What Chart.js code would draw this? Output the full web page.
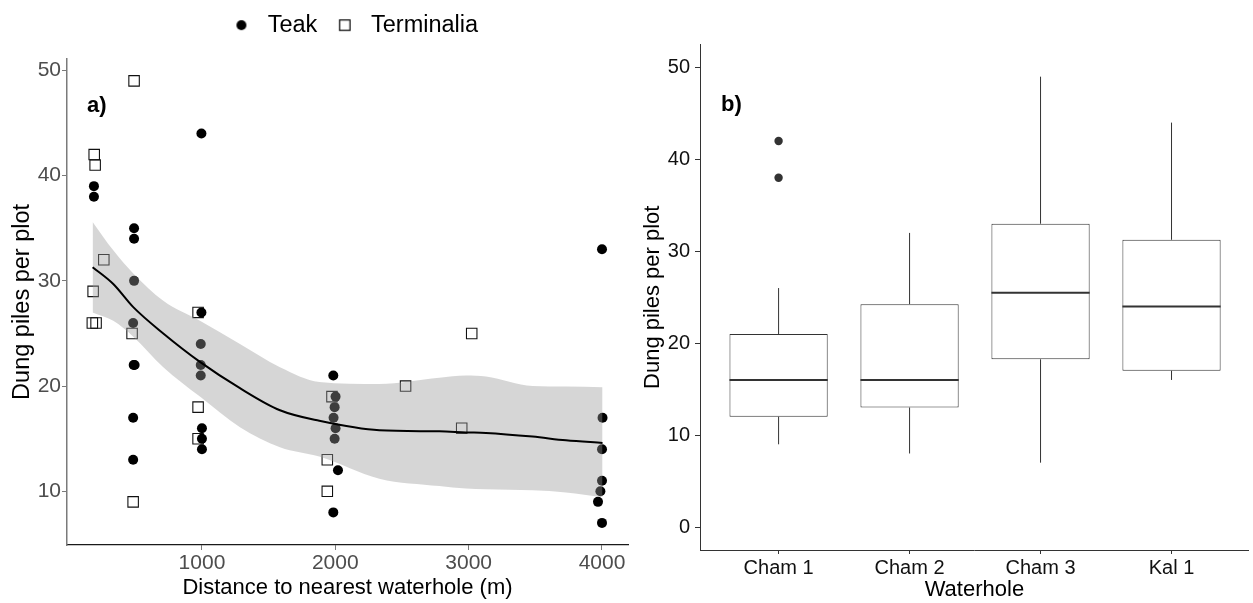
<!DOCTYPE html>
<html>
<head>
<meta charset="utf-8">
<script src="https://cdn.jsdelivr.net/npm/chart.js@4.4.1/dist/chart.umd.min.js"></script>
<style>
  body { margin: 0; background: #fff; }
  #wrap { position: relative; width: 1253px; height: 603px; font-family: "Liberation Sans", Arial, sans-serif; }
  .panel { position: absolute; top: 0; height: 603px; }
  #left { left: 0; width: 640px; }
  #right { left: 640px; width: 613px; }
  .tag { position: absolute; font-weight: bold; font-size: 22px; line-height: 22px; color: #000; }
</style>
</head>
<body>
<div id="wrap">
  <div class="panel" id="left"><canvas id="distChart"></canvas></div>
  <div class="panel" id="right"><canvas id="boxChart"></canvas></div>
  <div class="tag" style="left:87px; top:94px;">a)</div>
  <div class="tag" style="left:721px; top:93px;">b)</div>
</div>
<script>
// a) dung piles against distance to the nearest waterhole
const teakDistance = [190, 190, 491, 491, 491, 484, 488, 495, 484, 484, 996, 996, 991, 991, 991, 1000, 1000, 1000,
  1985, 2002, 1995, 1987, 2002, 1995, 2020, 1985, 4000, 4004, 4000, 4000, 3988, 3970, 4000];
const teakDung = [39, 38, 35, 34, 30, 26, 22, 22, 17, 13, 44, 27, 24, 22, 21, 16, 15, 14,
  21, 19, 18, 17, 16, 15, 12, 8, 33, 17, 14, 11, 10, 9, 7];
const termDistance = [192, 199, 264, 184, 178, 206, 491, 476, 484, 971, 971, 971, 1975, 1940, 1940, 2527, 2948, 3023];
const termDung = [42, 41, 32, 29, 26, 26, 49, 25, 9, 27, 18, 15, 19, 13, 10, 20, 16, 25];

// loess fit and its confidence band
const smoothDistance = [180, 335, 485, 710, 985, 1285, 1585, 1880, 2330, 2780, 2980, 3130, 3480, 3730, 4004];
const smoothFit = [31.3, 29.7, 27.5, 25.0, 22.3, 19.8, 17.7, 16.7, 15.8, 15.7, 15.6, 15.55, 15.2, 14.85, 14.6];
const smoothHi = [35.6, 32.9, 30.7, 28.1, 26.2, 24.0, 21.8, 20.4, 20.2, 20.8, 21.0, 20.9, 20.0, 19.95, 19.9];
const smoothLo = [27.0, 26.2, 24.7, 21.8, 19.0, 16.1, 14.2, 13.3, 11.2, 10.5, 10.26, 10.2, 10.1, 9.9, 9.46];

const distTicks = [1000, 2000, 3000, 4000];
const dungTicksA = [10, 20, 30, 40, 50];

// b) dung piles per waterhole
const waterholes = ["Cham 1", "Cham 2", "Cham 3", "Kal 1"];
const whiskerLow = [9, 8, 7, 16];
const boxQ1 = [12, 13, 18.25, 17];
const boxMedian = [16, 16, 25.5, 24];
const boxQ3 = [21, 24.25, 33, 31.25];
const whiskerHigh = [26, 32, 49, 44];
const outlierDung = [[38, 42], [], [], []];
const dungTicksB = [0, 10, 20, 30, 40, 50];

const FONT = '"Liberation Sans", Arial, sans-serif';
Chart.defaults.font.family = FONT;

const pairs = (xs, ys) => xs.map((x, i) => ({ x: x, y: ys[i] }));

// little legend keys, drawn like the plot symbols
function legendKey(kind) {
  const c = document.createElement("canvas");
  c.width = 14;
  c.height = 14;
  const g = c.getContext("2d");
  if (kind === "circle") {
    g.fillStyle = "#000";
    g.beginPath();
    g.arc(7, 7, 5, 0, Math.PI * 2);
    g.fill();
  } else {
    g.strokeStyle = "#000";
    g.lineWidth = 1.2;
    g.strokeRect(1.8, 1.8, 10.4, 10.4);
  }
  return c;
}
const legendMarks = [legendKey("circle"), legendKey("square")];

// leave some room between the legend and the plot panel, nudge it right a bit
const legendGap = {
  id: "legendGap",
  beforeLayout(chart) {
    const legend = chart.legend;
    if (legend && !legend._gapSet) {
      const fit = legend.fit;
      legend.fit = function () {
        fit.call(this);
        this.height += 11.9;
      };
      legend._gapSet = true;
    }
  },
  afterLayout(chart) {
    const legend = chart.legend;
    if (legend) {
      legend.left = chart.chartArea.left + 5;
      legend.right = chart.chartArea.right + 5;
    }
  },
};

new Chart(document.getElementById("distChart"), {
  type: "scatter",
  plugins: [legendGap],
  data: {
    datasets: [
      {
        label: "Teak",
        data: pairs(teakDistance, teakDung),
        pointStyle: "circle",
        pointRadius: 5,
        backgroundColor: "#000",
        borderWidth: 0,
        order: 3,
      },
      {
        label: "Terminalia",
        data: pairs(termDistance, termDung),
        pointStyle: "rect",
        pointRadius: 7.4,
        backgroundColor: "rgba(0,0,0,0)",
        borderColor: "#111",
        borderWidth: 1.1,
        order: 4,
      },
      {
        type: "line",
        label: "band hi",
        data: pairs(smoothDistance, smoothHi),
        borderWidth: 0,
        pointRadius: 0,
        cubicInterpolationMode: "monotone",
        backgroundColor: "rgba(153,153,153,0.4)",
        fill: "+1",
        order: 1,
      },
      {
        type: "line",
        label: "band lo",
        data: pairs(smoothDistance, smoothLo),
        borderWidth: 0,
        pointRadius: 0,
        cubicInterpolationMode: "monotone",
        fill: false,
        order: 1,
      },
      {
        type: "line",
        label: "loess",
        data: pairs(smoothDistance, smoothFit),
        borderColor: "#000",
        borderWidth: 2,
        pointRadius: 0,
        cubicInterpolationMode: "monotone",
        fill: false,
        order: 0,
      },
    ],
  },
  options: {
    responsive: true,
    maintainAspectRatio: false,
    animation: false,
    events: [],
    layout: { padding: { top: 0.4, right: 12, left: 0, bottom: 0 } },
    plugins: {
      tooltip: { enabled: false },
      legend: {
        position: "top",
        fullSize: false,
        labels: {
          usePointStyle: true,
          pointStyleWidth: 29,
          padding: 13,
          color: "#000",
          font: { size: 23.5 },
          generateLabels: (chart) =>
            Chart.defaults.plugins.legend.labels
              .generateLabels(chart)
              .filter((item) => item.datasetIndex < 2)
              .map((item) => ({ ...item, pointStyle: legendMarks[item.datasetIndex] })),
        },
      },
    },
    scales: {
      x: {
        type: "linear",
        min: -12,
        max: 4195,
        afterBuildTicks: (s) => { s.ticks = distTicks.map((v) => ({ value: v })); },
        afterFit: (s) => { s.height = 58; },
        grid: { drawOnChartArea: false, drawTicks: true, tickLength: 5, color: "#7a7a7a" },
        border: { display: true, color: "#1a1a1a", width: 1.2 },
        ticks: {
          color: "#4d4d4d",
          font: { size: 21 },
          padding: 1,
          maxRotation: 0,
          callback: (v) => String(v),
        },
        title: {
          display: true,
          text: "Distance to nearest waterhole (m)",
          color: "#000",
          font: { size: 22 },
          padding: { top: 0, bottom: 2 },
        },
      },
      y: {
        min: 4.9,
        max: 51.1,
        afterBuildTicks: (s) => { s.ticks = dungTicksA.map((v) => ({ value: v })); },
        afterFit: (s) => { s.width = 67; },
        grid: { drawOnChartArea: false, drawTicks: true, tickLength: 5, color: "#7a7a7a" },
        border: { display: true, color: "#7a7a7a", width: 1.5 },
        ticks: { color: "#4d4d4d", font: { size: 21 }, padding: 1 },
        title: {
          display: true,
          text: "Dung piles per plot",
          color: "#000",
          font: { size: 23.5 },
          padding: { top: 8, bottom: 0 },
        },
      },
    },
  },
});

// box plot pieces built from the summary arrays
const halfBox = 0.375;
const boxData = waterholes.map((_, i) => ({ x: i + 1, y: [boxQ1[i], boxQ3[i]] }));
const whiskerData = [];
const medianData = [];
const outlierData = [];
waterholes.forEach((_, i) => {
  whiskerData.push(
    { x: i + 1, y: whiskerLow[i] }, { x: i + 1, y: boxQ1[i] }, { x: i + 1, y: null },
    { x: i + 1, y: boxQ3[i] }, { x: i + 1, y: whiskerHigh[i] }, { x: i + 1, y: null }
  );
  medianData.push(
    { x: i + 1 - halfBox, y: boxMedian[i] }, { x: i + 1 + halfBox, y: boxMedian[i] }, { x: i + 1 + halfBox, y: null }
  );
  outlierDung[i].forEach((v) => outlierData.push({ x: i + 1, y: v }));
});

new Chart(document.getElementById("boxChart"), {
  type: "bar",
  data: {
    datasets: [
      {
        label: "box",
        data: boxData,
        backgroundColor: "#fff",
        borderColor: "#333",
        borderWidth: 1,
        borderSkipped: false,
        barPercentage: 0.75,
        categoryPercentage: 1,
        order: 1,
      },
      {
        type: "line",
        label: "whiskers",
        data: whiskerData,
        borderColor: "#333",
        borderWidth: 1,
        pointRadius: 0,
        spanGaps: false,
        fill: false,
        order: 2,
      },
      {
        type: "line",
        label: "median",
        data: medianData,
        borderColor: "#333",
        borderWidth: 2,
        pointRadius: 0,
        spanGaps: false,
        fill: false,
        order: 0,
      },
      {
        type: "scatter",
        label: "outliers",
        data: outlierData,
        pointRadius: 4.2,
        backgroundColor: "#333",
        borderWidth: 0,
        order: 0,
      },
    ],
  },
  options: {
    responsive: true,
    maintainAspectRatio: false,
    animation: false,
    events: [],
    layout: { padding: { top: 44.5, right: 0, left: 0, bottom: 0 } },
    plugins: { legend: { display: false }, tooltip: { enabled: false } },
    scales: {
      x: {
        type: "linear",
        min: 0.4,
        max: 4.59,
        offset: false,
        afterBuildTicks: (s) => { s.ticks = waterholes.map((_, i) => ({ value: i + 1 })); },
        afterFit: (s) => { s.height = 53; },
        grid: { offset: false, drawOnChartArea: false, drawTicks: true, tickLength: 4, color: "#333" },
        border: { display: true, color: "#333", width: 1 },
        ticks: {
          color: "#111",
          font: { size: 20 },
          padding: 2,
          maxRotation: 0,
          autoSkip: false,
          callback: (v) => waterholes[Math.round(v) - 1],
        },
        title: {
          display: true,
          text: "Waterhole",
          color: "#000",
          font: { size: 22 },
          padding: { top: 0, bottom: 0 },
        },
      },
      y: {
        min: -2.5,
        max: 52.5,
        afterBuildTicks: (s) => { s.ticks = dungTicksB.map((v) => ({ value: v })); },
        afterFit: (s) => { s.width = 60; },
        grid: { drawOnChartArea: false, drawTicks: true, tickLength: 5, color: "#333" },
        border: { display: true, color: "#333", width: 1 },
        ticks: { color: "#111", font: { size: 20 }, padding: 5 },
        title: {
          display: true,
          text: "Dung piles per plot",
          color: "#000",
          font: { size: 22 },
          padding: { top: 0, bottom: 0 },
        },
      },
    },
  },
});
</script>
</body>
</html>
